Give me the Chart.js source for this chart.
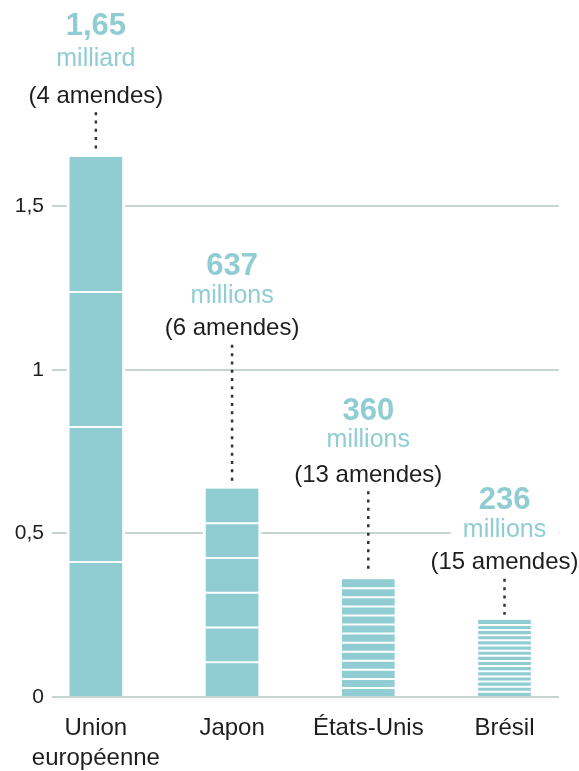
<!DOCTYPE html>
<html>
<head>
<meta charset="utf-8">
<script src="https://cdn.jsdelivr.net/npm/chart.js@4.4.1/dist/chart.umd.min.js"></script>
<style>
  html, body { margin: 0; padding: 0; background: #fff; }
  #wrap { width: 579px; height: 771px; }
</style>
</head>
<body>
<div id="wrap"><canvas id="finesChart" width="579" height="771"></canvas></div>
<script>
// data
const pays = [['Union', 'européenne'], 'Japon', 'États-Unis', 'Brésil'];
const totaux = [1.65, 0.637, 0.36, 0.236];       // milliards d'euros
const nbAmendes = [4, 6, 13, 15];
const montants = ['1,65', '637', '360', '236'];
const unites = ['milliard', 'millions', 'millions', 'millions'];
const yTicks = [0, 0.5, 1, 1.5];

const teal = '#8fcdd3';
const font = '"Liberation Sans", Arial, sans-serif';

// where the "(n amendes)" line sits, in axis units, and the spacing above it
const labelLevels = [1.836, 1.125, 0.678, 0.41];
const labelGaps = [[-70, -37], [-62, -33], [-64, -35], [-62, -33]];

const annotations = {
    id: 'annotations',
    afterDatasetsDraw(chart) {
        const ctx = chart.ctx;
        const y = chart.scales.y;
        const meta = chart.getDatasetMeta(0);
        ctx.save();
        ctx.textAlign = 'center';
        ctx.textBaseline = 'middle';

        meta.data.forEach((bar, i) => {
            const x = bar.x;
            const base = y.getPixelForValue(0);
            const top = bar.y;
            const w = bar.width;

            // white dividers, one per fine
            ctx.strokeStyle = '#fff';
            ctx.lineWidth = 2;
            for (let k = 1; k < nbAmendes[i]; k++) {
                const py = base - (base - top) * k / nbAmendes[i];
                ctx.beginPath();
                ctx.moveTo(x - w / 2, py);
                ctx.lineTo(x + w / 2, py);
                ctx.stroke();
            }

            const cy = y.getPixelForValue(labelLevels[i]);
            const lines = [
                { text: montants[i], f: 'bold 31px ' + font, c: teal, dy: labelGaps[i][0] },
                { text: unites[i], f: '25px ' + font, c: teal, dy: labelGaps[i][1] },
                { text: '(' + nbAmendes[i] + ' amendes)', f: '24px ' + font, c: '#1e1e1e', dy: 0 }
            ];
            lines.forEach(l => {
                ctx.font = l.f;
                const tw = ctx.measureText(l.text).width;
                ctx.fillStyle = '#fff';
                ctx.fillRect(x - tw / 2 - 12, cy + l.dy - 16, tw + 24, 32);
            });
            lines.forEach(l => {
                ctx.font = l.f;
                ctx.fillStyle = l.c;
                ctx.fillText(l.text, x, cy + l.dy);
            });

            // dotted leader
            ctx.strokeStyle = '#333';
            ctx.lineWidth = 2.5;
            ctx.setLineDash([3, 5.3]);
            ctx.beginPath();
            ctx.moveTo(x, cy + 16);
            ctx.lineTo(x, top - 5);
            ctx.stroke();
            ctx.setLineDash([]);
        });
        ctx.restore();
    }
};

new Chart(document.getElementById('finesChart').getContext('2d'), {
    type: 'bar',
    data: {
        datasets: [{
            data: totaux.map((v, i) => ({ x: i, y: v })),
            backgroundColor: teal,
            borderColor: '#fff',
            borderWidth: { left: 3, right: 3, top: 0, bottom: 0 },
            borderSkipped: false,
            barThickness: 58
        }]
    },
    options: {
        responsive: false,
        animation: false,
        layout: { padding: { top: 6, right: 20, left: 0, bottom: 0 } },
        plugins: { legend: { display: false }, tooltip: { enabled: false } },
        scales: {
            x: {
                type: 'linear',
                offset: false,
                min: -0.322,
                max: 3.4,
                afterBuildTicks: axis => { axis.ticks = pays.map((p, i) => ({ value: i })); },
                afterFit: axis => { axis.height = 74; },
                grid: { display: false },
                border: { display: false },
                ticks: {
                    callback: (v) => pays[v],
                    color: '#1e1e1e',
                    font: { family: font, size: 24, lineHeight: 1.25 },
                    padding: 8,
                    maxRotation: 0,
                    autoSkip: false
                }
            },
            y: {
                min: 0,
                max: 2.067,
                afterBuildTicks: axis => { axis.ticks = yTicks.map(v => ({ value: v })); },
                afterFit: axis => { axis.width = 52; },
                grid: { color: '#c6d5d1', lineWidth: 2, drawTicks: false },
                border: { display: false },
                ticks: {
                    callback: v => String(v).replace('.', ','),
                    color: '#1e1e1e',
                    font: { family: font, size: 21 },
                    padding: 8
                }
            }
        }
    },
    plugins: [annotations]
});
</script>
</body>
</html>
